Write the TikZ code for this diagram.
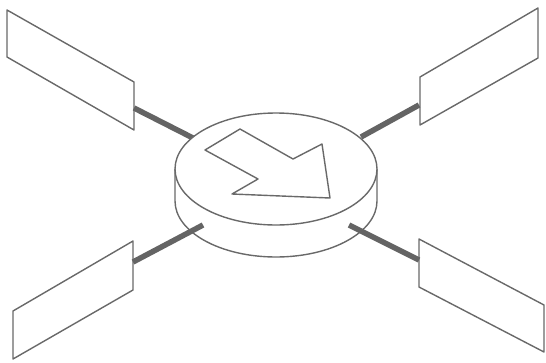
\documentclass[tikz,border=0pt]{standalone}
\definecolor{rimgray}{RGB}{105,105,105}
\definecolor{linkgray}{RGB}{100,100,100}
\usetikzlibrary{calc}

\begin{document}
\begin{tikzpicture}[x=1pt, y=-1pt,
    outline/.style={draw=rimgray, line width=1.4pt, line join=round, fill=white},
    link/.style={draw=linkgray, line width=5.5pt}]
    \useasboundingbox (0,0) rectangle (546,362);

    % attach points on the four panels
    \coordinate (nwPanel) at (134,108);
    \coordinate (nePanel) at (419,105);
    \coordinate (swPanel) at (133,262);
    \coordinate (sePanel) at (419,260);
    % attach points on the hub
    \coordinate (hubNW) at (193,138);
    \coordinate (hubNE) at (361,137);
    \coordinate (hubSW) at (203,225);
    \coordinate (hubSE) at (349,225);

    \draw[outline] (7,10) -- (134,82) -- (134,130) -- (7,57) -- cycle;
    \draw[outline] (420,77) -- (538,8) -- (538,58) -- (420,125) -- cycle;
    \draw[outline] (13,311) -- (133,241) -- (133,290) -- (13,359) -- cycle;
    \draw[outline] (419,239) -- (544,305) -- (544,352) -- (419,287) -- cycle;

    \draw[link] (nwPanel) -- (hubNW);
    \draw[link] (nePanel) -- (hubNE);

    % hub
    \draw[outline] (175,169) -- (175,201)
      arc[start angle=180, end angle=0, x radius=101, y radius=56]
      -- (377,169);
    \draw[outline] (276,169) ellipse [x radius=101, y radius=56];
    \draw[outline] (205,150) -- (240,129) -- (293,159) -- (322,144)
      -- (330,198) -- (232,194) -- (258,179) -- cycle;

    \draw[link] (swPanel) -- (hubSW);
    \draw[link] (sePanel) -- (hubSE);
\end{tikzpicture}
\end{document}
